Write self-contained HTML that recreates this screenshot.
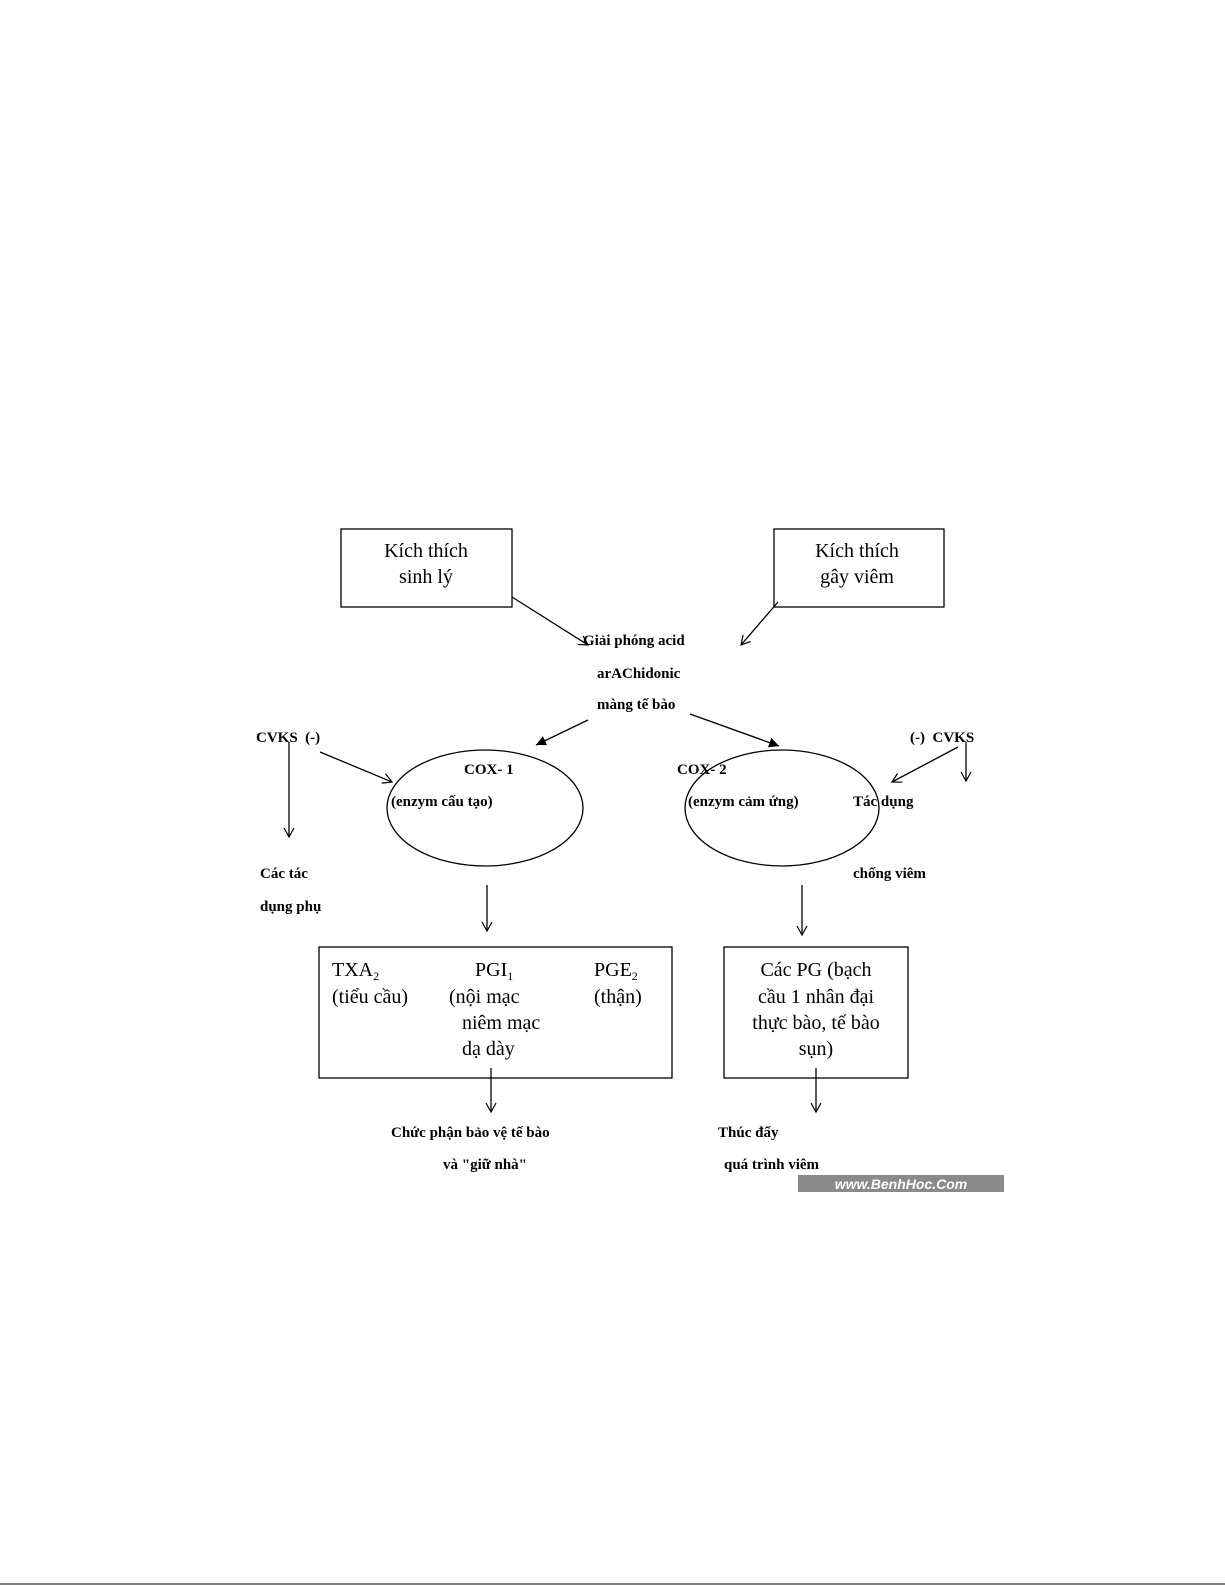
<!DOCTYPE html>
<html><head><meta charset="utf-8"><style>
body{margin:0;background:#fff}
svg{display:block}
.s{font-family:"Liberation Serif",serif;font-size:20px}
.b{font-family:"Liberation Serif",serif;font-size:15px;font-weight:bold}
.sm{font-size:12px}
</style></head><body>
<svg width="1225" height="1585" viewBox="0 0 1225 1585">
<defs>
<marker id="o" markerWidth="12" markerHeight="12" refX="10" refY="6" orient="auto" markerUnits="userSpaceOnUse"><path d="M1,1 L10,6 L1,11" fill="none" stroke="#000" stroke-width="1.2"/></marker>
<marker id="f" markerWidth="12" markerHeight="12" refX="10" refY="6" orient="auto" markerUnits="userSpaceOnUse"><path d="M0,1 L10,6 L0,11 Z" fill="#000"/></marker>
</defs>
<g fill="none" stroke="#000" stroke-width="1.3">
<rect x="341" y="529" width="171" height="78"/>
<rect x="774" y="529" width="170" height="78"/>
<ellipse cx="485" cy="808" rx="98" ry="58"/>
<ellipse cx="782" cy="808" rx="97" ry="58"/>
<rect x="319" y="947" width="353" height="131"/>
<rect x="724" y="947" width="184" height="131"/>
<line x1="512" y1="597" x2="588" y2="645" marker-end="url(#o)"/>
<line x1="778" y1="602" x2="741" y2="645" marker-end="url(#o)"/>
<line x1="588" y1="720" x2="536" y2="745" marker-end="url(#f)"/>
<line x1="690" y1="714" x2="779" y2="746" marker-end="url(#f)"/>
<line x1="289" y1="742" x2="289" y2="837" marker-end="url(#o)"/>
<line x1="320" y1="752" x2="392" y2="782" marker-end="url(#o)"/>
<line x1="966" y1="742" x2="966" y2="781" marker-end="url(#o)"/>
<line x1="958" y1="747" x2="892" y2="782" marker-end="url(#o)"/>
<line x1="487" y1="885" x2="487" y2="931" marker-end="url(#o)"/>
<line x1="802" y1="885" x2="802" y2="935" marker-end="url(#o)"/>
<line x1="491" y1="1068" x2="491" y2="1112" marker-end="url(#o)"/>
<line x1="816" y1="1068" x2="816" y2="1112" marker-end="url(#o)"/>
</g>
<g class="s" text-anchor="middle">
<text x="426" y="557">Kích thích</text><text x="426" y="583">sinh lý</text>
<text x="857" y="557">Kích thích</text><text x="857" y="583">gây viêm</text>
<text x="816" y="976">Các PG (bạch</text>
<text x="816" y="1003">cầu 1 nhân đại</text>
<text x="816" y="1029">thực bào, tế bào</text>
<text x="816" y="1055">sụn)</text>
</g>
<g class="s">
<text x="332" y="976">TXA<tspan class="sm" dy="4">2</tspan></text>
<text x="332" y="1003">(tiểu cầu)</text>
<text x="475" y="976">PGI<tspan class="sm" dy="4">1</tspan></text>
<text x="449" y="1003">(nội mạc</text>
<text x="462" y="1029">niêm mạc</text>
<text x="462" y="1055">dạ dày</text>
<text x="594" y="976">PGE<tspan class="sm" dy="4">2</tspan></text>
<text x="594" y="1003">(thận)</text>
</g>
<g class="b">
<text x="583" y="645">Giải phóng acid</text>
<text x="597" y="678">arAChidonic</text>
<text x="597" y="709">màng tế bào</text>
<text x="256" y="742">CVKS&#160;&#160;(-)</text>
<text x="910" y="742">(-)&#160;&#160;CVKS</text>
<text x="464" y="774">COX- 1</text>
<text x="391" y="806">(enzym cấu tạo)</text>
<text x="677" y="774">COX- 2</text>
<text x="688" y="806">(enzym cảm ứng)</text>
<text x="853" y="806">Tác dụng</text>
<text x="853" y="878">chống viêm</text>
<text x="260" y="878">Các tác</text>
<text x="260" y="911">dụng phụ</text>
<text x="391" y="1137">Chức phận bảo vệ tế bào</text>
<text x="443" y="1169">và "giữ nhà"</text>
<text x="718" y="1137">Thúc đẩy</text>
<text x="724" y="1169">quá trình viêm</text>
</g>
<rect x="798" y="1175" width="206" height="17" fill="#8a8a8a"/>
<text x="901" y="1189" text-anchor="middle" fill="#fff" font-family="Liberation Sans,sans-serif" font-size="14" font-weight="bold" font-style="italic">www.BenhHoc.Com</text>
<line x1="0" y1="1584" x2="1225" y2="1584" stroke="#000" stroke-width="1"/>
</svg>
</body></html>
